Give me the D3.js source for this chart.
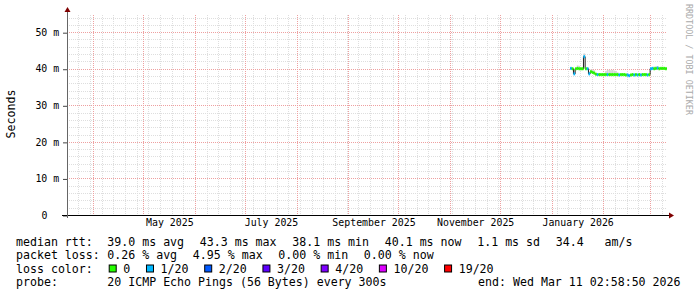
<!DOCTYPE html>
<html>
<head>
<meta charset="utf-8">
<script src="https://cdn.jsdelivr.net/npm/d3@7"></script>
<style>
  html, body { margin: 0; padding: 0; background: #fff; }
  svg { display: block; font-family: "DejaVu Sans Mono", monospace; }
  text { white-space: pre; }
</style>
</head>
<body>
<div id="chart"></div>
<script>
// time range of the graph (360 days ending at the "end:" stamp)
const endTime = new Date(Date.UTC(2026, 2, 11, 2, 58, 50));
const spanDays = 360;
// first day with data, one value per day after that
const firstDay = new Date(Date.UTC(2026, 0, 12));

// median rtt in ms, per day
const medianMs = [
  40.1, 40.0, 38.6, 40.0, 40.1, 40.0, 40.0, 40.0, 43.3, 40.0,
  40.0, 38.6, 39.2, 39.0, 38.8, 38.5, 38.4, 38.4, 38.4, 38.4,
  38.4, 38.4, 38.4, 38.4, 38.4, 38.4, 38.4, 38.4, 38.4, 38.3,
  38.4, 38.4, 38.4, 38.3, 38.3, 38.1, 38.3, 38.4, 38.3, 38.4,
  38.3, 38.4, 38.3, 38.4, 38.4, 38.4, 38.3, 38.4, 40.0, 40.1,
  40.0, 40.1, 40.2, 40.0, 40.1, 40.1, 40.1, 40.0, 40.1
];
// lost pings out of 20, per day
const lossCount = [
  1, 0, 1, 0, 0, 0, 0, 0, 1, 0,
  1, 1, 0, 0, 0, 0, 1, 0, 0, 0,
  0, 0, 1, 0, 0, 0, 0, 0, 0, 1,
  0, 0, 0, 0, 1, 1, 0, 0, 1, 0,
  1, 0, 1, 0, 0, 0, 1, 0, 1, 1,
  0, 0, 1, 0, 0, 0, 0, 0, 0
];
// top of the smoke (slowest ping), ms
const smokeHiMs = [
  40.4, 40.3, 40.0, 40.3, 40.9, 40.8, 40.3, 40.3, 44.2, 40.3,
  40.3, 39.0, 39.8, 39.7, 39.6, 38.8, 38.7, 38.7, 38.7, 38.7,
  38.8, 39.4, 39.7, 39.7, 39.6, 39.7, 39.5, 39.4, 39.0, 38.7,
  38.7, 38.7, 38.7, 38.6, 38.6, 38.4, 38.6, 38.7, 38.6, 38.7,
  38.6, 38.7, 38.6, 38.7, 38.7, 38.7, 38.6, 38.7, 40.3, 40.4,
  40.6, 40.6, 40.7, 40.5, 40.5, 40.5, 40.4, 40.4, 40.4
];

// x axis labels (month starts)
const labelMonths = ["2025-05", "2025-07", "2025-09", "2025-11", "2026-01"];

// loss colour legend
const lossLabels = ["0", "1/20", "2/20", "3/20", "4/20", "10/20", "19/20"];
const lossLimits = [0, 1, 2, 3, 4, 10, 19];
const lossColors = ["#26ff00", "#00b8ff", "#0059ff", "#5e00ff", "#7e00ff", "#dd00ff", "#ff0000"];

// legend texts
const rttItems = ["39.0 ms avg", "43.3 ms max", "38.1 ms min", "40.1 ms now", "1.1 ms sd", "34.4   am/s"];
const lossItems = ["0.26 % avg", "4.95 % max", "0.00 % min", "0.00 % now"];
const probeText = "20 ICMP Echo Pings (56 Bytes) every 300s";
const endText = "end: Wed Mar 11 02:58:50 2026";

const W = 697, H = 297;
const plot = { left: 67, right: 667, top: 15, bottom: 215 };
const DAY = 86400000;

const startTime = new Date(endTime.getTime() - spanDays * DAY);

const rows = medianMs.map((m, i) => ({
  t0: new Date(firstDay.getTime() + i * DAY),
  t1: new Date(firstDay.getTime() + (i + 1) * DAY),
  median: m,
  loss: lossCount[i],
  hi: smokeHiMs[i]
}));

const x = d3.scaleUtc().domain([startTime, endTime]).range([plot.left, plot.right]);
const y = d3.scaleLinear().domain([0, 54.7]).range([plot.bottom, plot.top]);

const lossColor = d3.scaleThreshold()
  .domain(lossLimits.slice(1))
  .range(lossColors);

const svg = d3.select("#chart").append("svg")
  .attr("width", W)
  .attr("height", H);

svg.append("rect").attr("width", W).attr("height", H).attr("fill", "#fff");

svg.append("defs").append("clipPath").attr("id", "plotclip")
  .append("rect")
  .attr("x", plot.left).attr("y", plot.top)
  .attr("width", plot.right - plot.left).attr("height", plot.bottom - plot.top);

const crisp = v => Math.round(v) + 0.5;

// ---- grid ----
const grid = svg.append("g").attr("fill", "none").attr("stroke-dasharray", "1,1");

// minor: weeks and every 2 ms
grid.selectAll("line.vmin")
  .data(d3.utcSunday.range(startTime, endTime))
  .join("line")
  .attr("x1", d => crisp(x(d))).attr("x2", d => crisp(x(d)))
  .attr("y1", plot.top).attr("y2", plot.bottom)
  .attr("stroke", "#dedede");

grid.selectAll("line.hmin")
  .data(d3.ticks(0, 54, 27))
  .join("line")
  .attr("x1", plot.left).attr("x2", plot.right)
  .attr("y1", d => crisp(y(d))).attr("y2", d => crisp(y(d)))
  .attr("stroke", "#dedede");

// major: months and every 10 ms
grid.selectAll("line.vmaj")
  .data(d3.utcMonth.range(startTime, endTime))
  .join("line")
  .attr("x1", d => crisp(x(d))).attr("x2", d => crisp(x(d)))
  .attr("y1", plot.top).attr("y2", plot.bottom)
  .attr("stroke", "#eea0a0");

grid.selectAll("line.hmaj")
  .data(y.ticks(5).filter(d => d > 0))
  .join("line")
  .attr("x1", plot.left).attr("x2", plot.right)
  .attr("y1", d => crisp(y(d))).attr("y2", d => crisp(y(d)))
  .attr("stroke", "#eea0a0");

// ---- data ----
const marks = svg.append("g").attr("clip-path", "url(#plotclip)");

// smoke above the median
rows.forEach(d => {
  marks.append("rect")
    .attr("x", x(d.t0))
    .attr("width", x(d.t1) - x(d.t0))
    .attr("y", y(d.hi))
    .attr("height", Math.max(0, y(d.median) - y(d.hi)))
    .attr("fill", "#d4d4d4");
});

// thin dark median line (shows at the steps)
const stepPts = [];
rows.forEach(d => { stepPts.push([x(d.t0), y(d.median)]); stepPts.push([x(d.t1), y(d.median)]); });
marks.append("path")
  .attr("d", d3.line()(stepPts))
  .attr("fill", "none")
  .attr("stroke", "#202020")
  .attr("stroke-width", 1);

// median band coloured by loss
marks.selectAll("rect.med")
  .data(rows)
  .join("rect")
  .attr("class", "med")
  .attr("x", d => x(d.t0))
  .attr("width", d => x(d.t1) - x(d.t0))
  .attr("y", d => y(d.median) - 1.5)
  .attr("height", 3)
  .attr("fill", d => lossColor(d.loss));

// ---- axes ----
const yAxis = svg.append("g")
  .attr("transform", `translate(${plot.left},0)`)
  .call(d3.axisLeft(y)
    .ticks(5)
    .tickSize(4)
    .tickPadding(4)
    .tickFormat(d => d === 0 ? "0" : d + " m"));
yAxis.select(".domain").remove();
yAxis.selectAll(".tick line").attr("stroke", "#444").attr("transform", "translate(0,0.5)");
yAxis.selectAll(".tick text")
  .attr("font-family", "DejaVu Sans Mono")
  .attr("font-size", "9.9px")
  .attr("fill", "#000")
  .attr("x", d => d === 0 ? -19.6 : -7.8);

const monthStart = d3.utcParse("%Y-%m");
const xAxis = svg.append("g")
  .attr("transform", `translate(0,${plot.bottom})`)
  .call(d3.axisBottom(x)
    .tickValues(labelMonths.map(m => {
      const a = monthStart(m), b = d3.utcMonth.offset(a, 1);
      return new Date((a.getTime() + b.getTime()) / 2);
    }))
    .tickSize(0)
    .tickPadding(4)
    .tickFormat(d => d3.utcFormat("%B %Y")(d3.utcMonth.floor(d))));
xAxis.select(".domain").remove();
xAxis.selectAll(".tick text")
  .attr("font-family", "DejaVu Sans Mono")
  .attr("font-size", "9.9px")
  .attr("fill", "#000");

// axis lines with arrows
svg.append("line")
  .attr("x1", 62).attr("x2", 669)
  .attr("y1", plot.bottom + 0.5).attr("y2", plot.bottom + 0.5)
  .attr("stroke", "#000");
svg.append("line")
  .attr("x1", plot.left + 0.5).attr("x2", plot.left + 0.5)
  .attr("y1", plot.bottom + 3).attr("y2", 11)
  .attr("stroke", "#666");
svg.append("path")
  .attr("d", `M${669},${plot.bottom - 2.5}L${674},${plot.bottom + 0.5}L${669},${plot.bottom + 3.5}Z`)
  .attr("fill", "#7f0000");
svg.append("path")
  .attr("d", `M${plot.left - 2.5},${12}L${plot.left + 0.5},${7}L${plot.left + 3.5},${12}Z`)
  .attr("fill", "#7f0000");

// y title
svg.append("text")
  .attr("transform", "translate(14.5,114) rotate(-90)")
  .attr("text-anchor", "middle")
  .attr("font-size", "11.6px")
  .attr("fill", "#000")
  .text("Seconds");

// watermark
svg.append("text")
  .attr("transform", "translate(685.5,4) rotate(90)")
  .attr("font-size", "8.4px")
  .attr("fill", "#aaaaaa")
  .text("RRDTOOL / TOBI OETIKER");

// ---- legend ----
const legend = svg.append("g").attr("font-size", "11.6px").attr("fill", "#000");
const col0 = 16, col1 = 107.3, gap = 15.7;
const lineY = [245.5, 259, 272.5, 286];

function itemRow(yy, head, items) {
  legend.append("text").attr("x", col0).attr("y", yy).text(head);
  let xx = col1;
  items.forEach(s => {
    const t = legend.append("text").attr("x", xx).attr("y", yy).text(s);
    xx += t.node().getComputedTextLength() + gap;
  });
}

itemRow(lineY[0], "median rtt:", rttItems);
itemRow(lineY[1], "packet loss:", lossItems);

legend.append("text").attr("x", col0).attr("y", lineY[2]).text("loss color:");
let lx = col1 + 1.4;
lossLabels.forEach((s, i) => {
  legend.append("rect")
    .attr("x", lx + 0.5).attr("y", lineY[2] - 7.5)
    .attr("width", 7).attr("height", 7)
    .attr("fill", lossColors[i])
    .attr("stroke", "#000");
  const t = legend.append("text").attr("x", lx + 14.6).attr("y", lineY[2]).text(s);
  lx += 14.6 + t.node().getComputedTextLength() + gap;
});

legend.append("text").attr("x", col0).attr("y", lineY[3]).text("probe:");
legend.append("text").attr("x", col1).attr("y", lineY[3]).text(probeText);
legend.append("text").attr("x", 680.5).attr("y", lineY[3]).attr("text-anchor", "end").text(endText);
</script>
</body>
</html>
